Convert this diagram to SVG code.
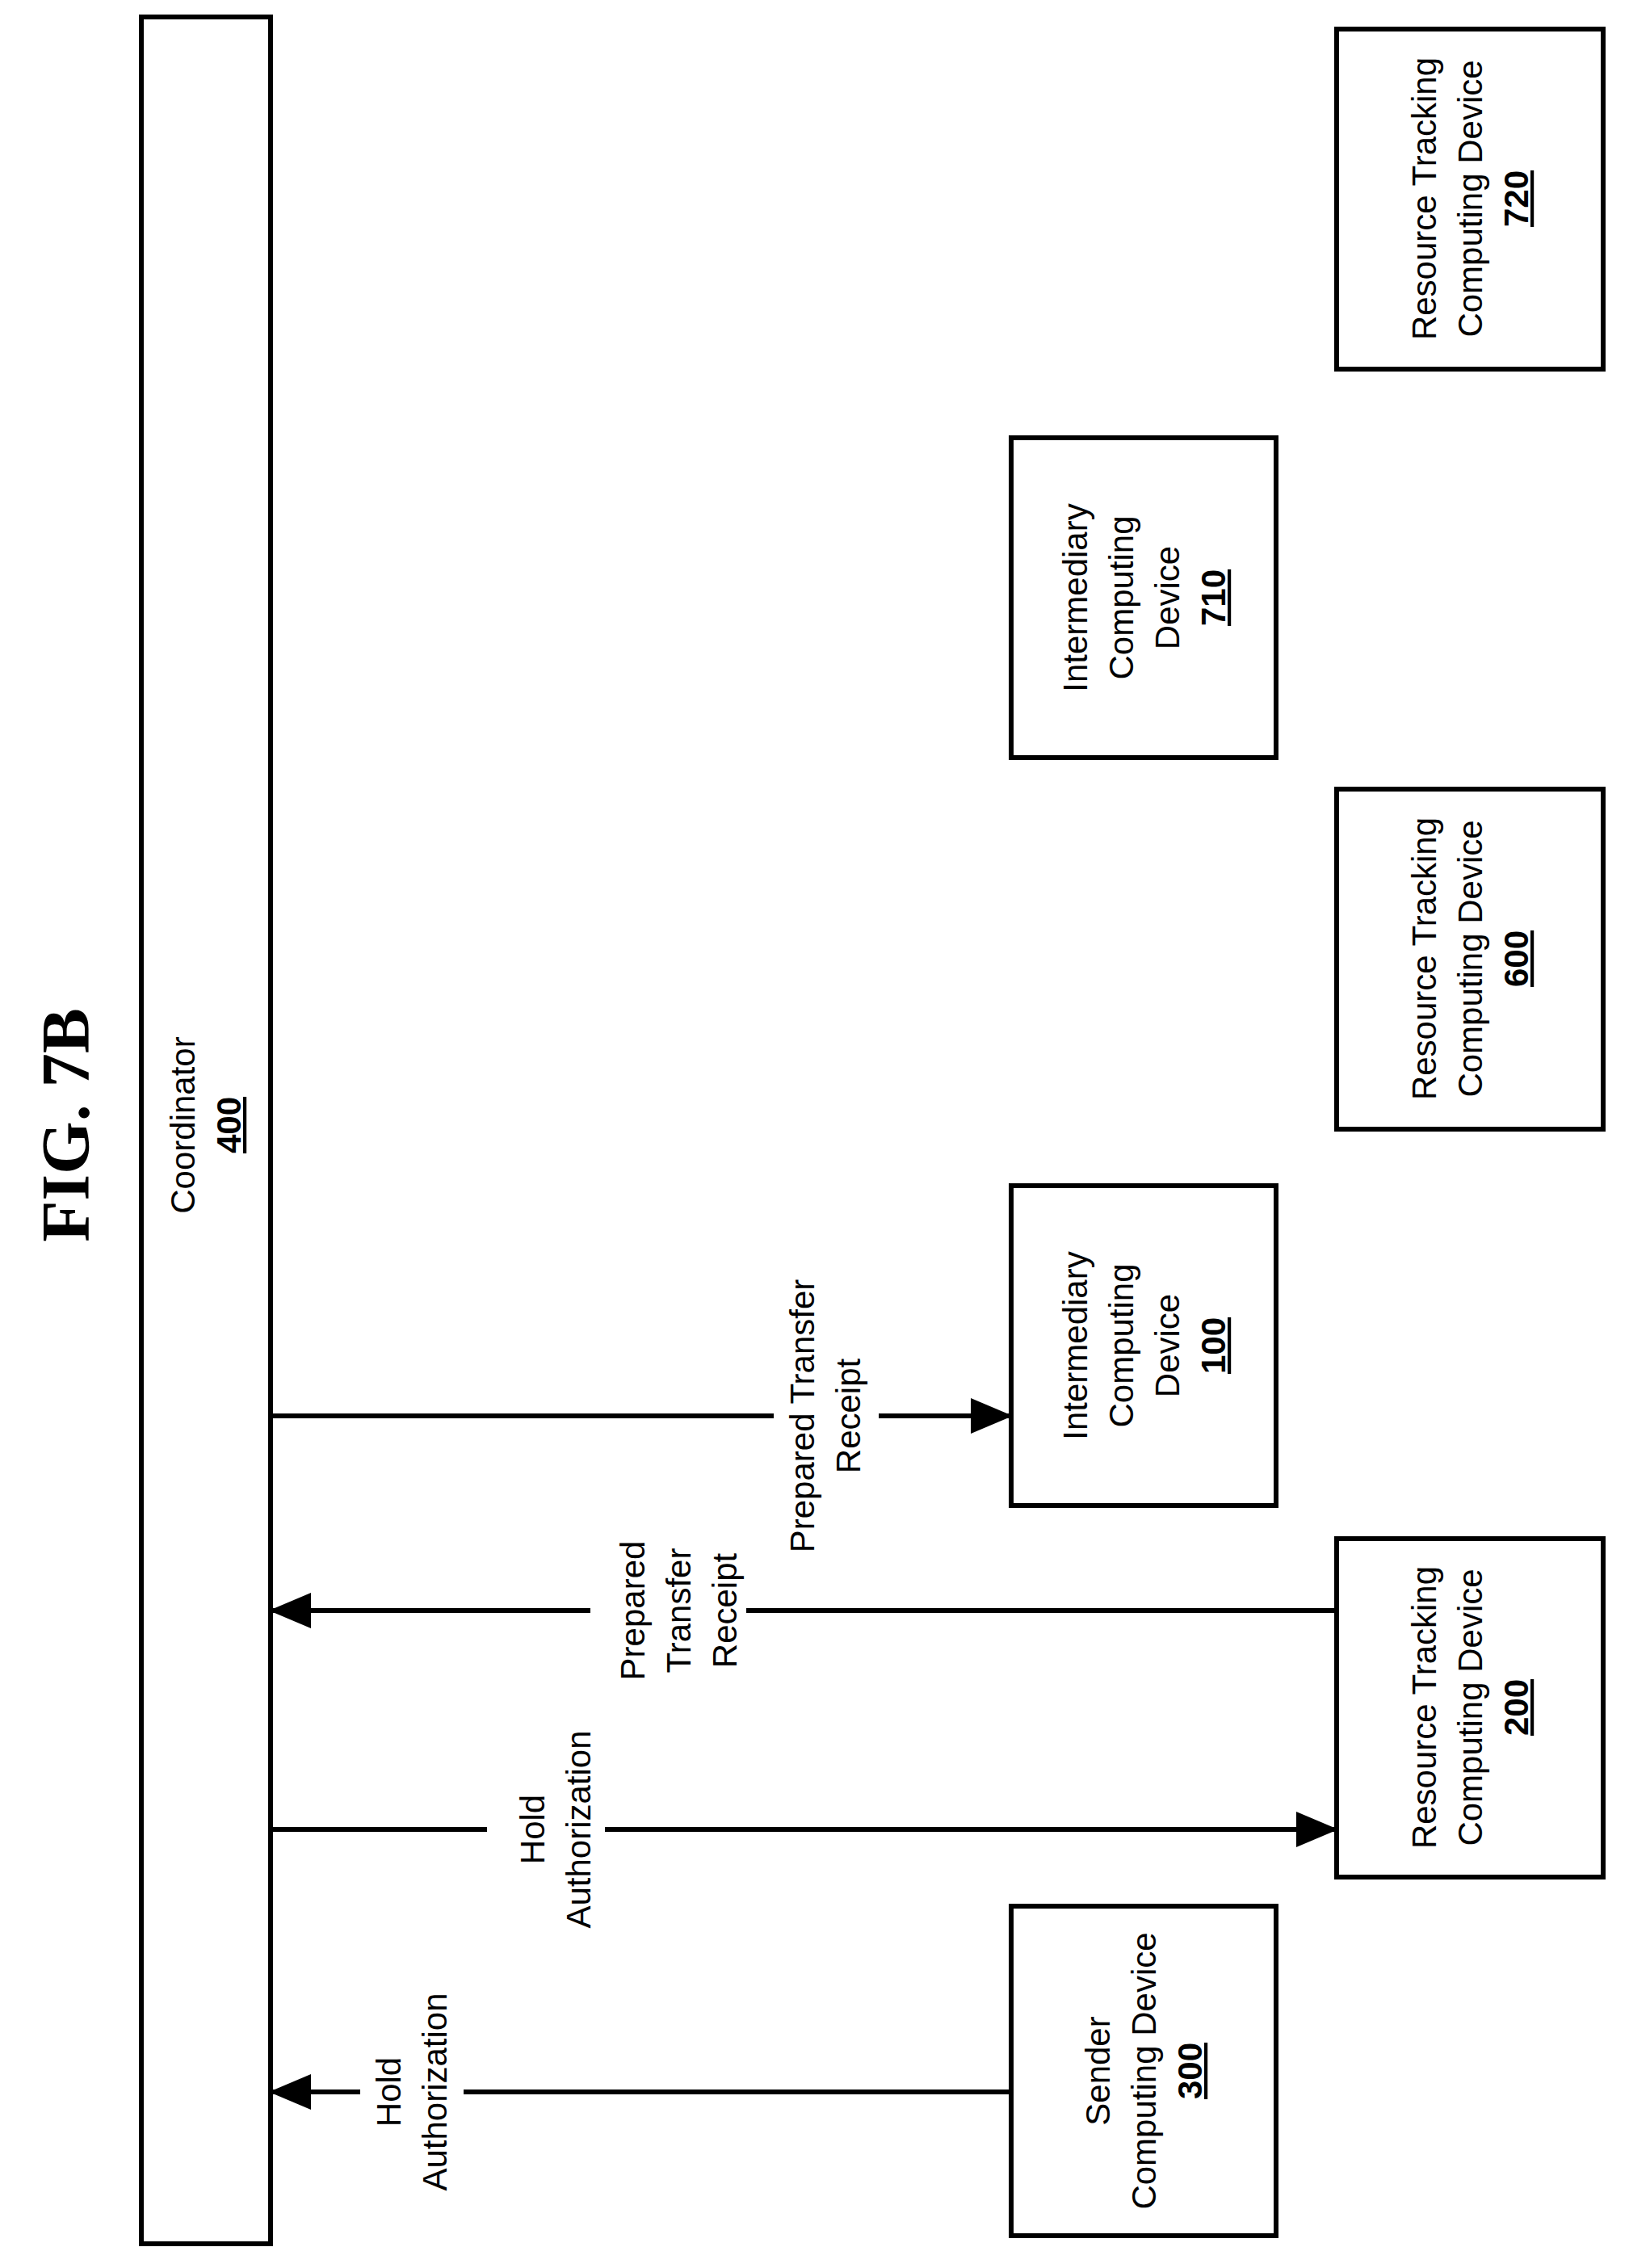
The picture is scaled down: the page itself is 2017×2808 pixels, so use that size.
<svg xmlns="http://www.w3.org/2000/svg" width="2017" height="2808" viewBox="0 0 2017 2808">
<style>
.b{fill:#fff;stroke:#000;stroke-width:6}
.t{font-family:"Liberation Sans",Arial,sans-serif;font-size:42px;text-anchor:middle;fill:#000}
.n{font-weight:bold;text-decoration:underline}
.c{stroke:#000;stroke-width:6;fill:none}
</style>
<defs><marker id="a" markerUnits="userSpaceOnUse" markerWidth="52" markerHeight="44" refX="50" refY="22" orient="auto"><path d="M0,0L52,22L0,44Z" fill="#000"/></marker></defs>
<rect width="2017" height="2808" fill="#fff"/>
<text transform="translate(110,1393) rotate(-90)" style="font-family:'Liberation Serif',serif;font-size:84px;font-weight:bold" text-anchor="middle">FIG. 7B</text>
<g id="n400"><rect class="b" x="175" y="21" width="160" height="2757"/>
<text class="t" transform="translate(255,1393) rotate(-90)"><tspan x="0" y="-14">Coordinator</tspan><tspan x="0" y="43" class="n">400</tspan></text></g>
<g id="n720"><rect class="b" x="1655" y="36" width="330" height="421"/>
<text class="t" transform="translate(1820,246) rotate(-90)"><tspan x="0" y="-42">Resource Tracking</tspan><tspan x="0" y="15">Computing Device</tspan><tspan x="0" y="72" class="n">720</tspan></text></g>
<g id="n710"><rect class="b" x="1252" y="542" width="328" height="396"/>
<text class="t" transform="translate(1416,740) rotate(-90)"><tspan x="0" y="-70">Intermediary</tspan><tspan x="0" y="-13">Computing</tspan><tspan x="0" y="44">Device</tspan><tspan x="0" y="101" class="n">710</tspan></text></g>
<g id="n600"><rect class="b" x="1655" y="977" width="330" height="421"/>
<text class="t" transform="translate(1820,1187) rotate(-90)"><tspan x="0" y="-42">Resource Tracking</tspan><tspan x="0" y="15">Computing Device</tspan><tspan x="0" y="72" class="n">600</tspan></text></g>
<g id="n100"><rect class="b" x="1252" y="1468" width="328" height="396"/>
<text class="t" transform="translate(1416,1666) rotate(-90)"><tspan x="0" y="-70">Intermediary</tspan><tspan x="0" y="-13">Computing</tspan><tspan x="0" y="44">Device</tspan><tspan x="0" y="101" class="n">100</tspan></text></g>
<g id="n200"><rect class="b" x="1655" y="1905" width="330" height="419"/>
<text class="t" transform="translate(1820,2114) rotate(-90)"><tspan x="0" y="-42">Resource Tracking</tspan><tspan x="0" y="15">Computing Device</tspan><tspan x="0" y="72" class="n">200</tspan></text></g>
<g id="n300"><rect class="b" x="1252" y="2360" width="328" height="408"/>
<text class="t" transform="translate(1416,2564) rotate(-90)"><tspan x="0" y="-42">Sender</tspan><tspan x="0" y="15">Computing Device</tspan><tspan x="0" y="72" class="n">300</tspan></text></g>
<g id="connectors">
<path class="c" d="M335,1753H958"/><path class="c" d="M1088,1753H1252" marker-end="url(#a)"/>
<text class="t" transform="translate(1022,1753) rotate(-90)"><tspan x="0" y="-14">Prepared Transfer</tspan><tspan x="0" y="43">Receipt</tspan></text>
<path class="c" d="M1655,1994H924"/><path class="c" d="M731,1994H335" marker-end="url(#a)"/>
<text class="t" transform="translate(840,1994) rotate(-90)"><tspan x="0" y="-42">Prepared</tspan><tspan x="0" y="15">Transfer</tspan><tspan x="0" y="72">Receipt</tspan></text>
<path class="c" d="M335,2265H603"/><path class="c" d="M749,2265H1655" marker-end="url(#a)"/>
<text class="t" transform="translate(688,2265) rotate(-90)"><tspan x="0" y="-14">Hold</tspan><tspan x="0" y="43">Authorization</tspan></text>
<path class="c" d="M1252,2590H574"/><path class="c" d="M446,2590H335" marker-end="url(#a)"/>
<text class="t" transform="translate(510,2590) rotate(-90)"><tspan x="0" y="-14">Hold</tspan><tspan x="0" y="43">Authorization</tspan></text>
</g>
</svg>
